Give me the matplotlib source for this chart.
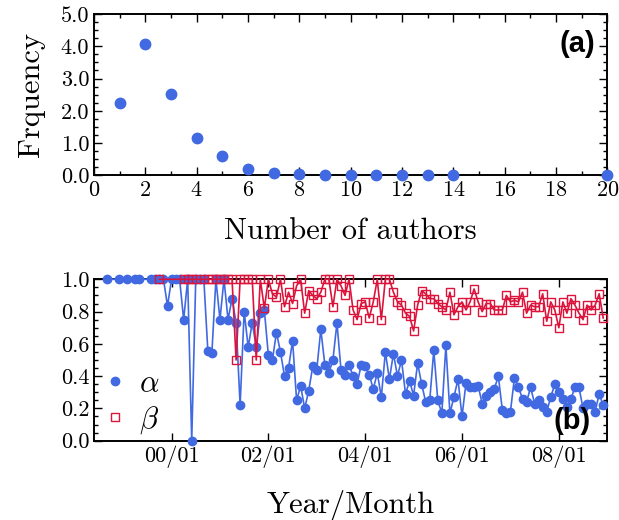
import matplotlib
matplotlib.use("Agg")
import matplotlib.pyplot as plt
from matplotlib.lines import Line2D
from matplotlib.ticker import MultipleLocator

plt.rcParams['font.family'] = 'serif'
plt.rcParams['font.serif'] = ['cmr10']
plt.rcParams['mathtext.fontset'] = 'cm'
plt.rcParams['axes.formatter.use_mathtext'] = True

# (a) number of authors per paper
n_authors = [1, 2, 3, 4, 5, 6, 7, 8, 9, 10, 11, 12, 13, 14, 20]
freq = [2.25, 4.07, 2.52, 1.14, 0.59, 0.18, 0.07, 0.03, 0.01, 0.01,
        0.01, 0.01, 0.01, 0.01, 0.005]

# (b) monthly alpha / beta, months counted from 00/01
alpha_month = [-16, -13, -11, -9, -8, -5, -4, -3, -2, -1, 0, 1, 2, 3, 4, 5,
               6, 7, 8, 9, 10, 11, 12] + list(range(13, 108))
alpha = [1.0, 1.0, 1.0, 1.0, 1.0, 1.0, 1.0, 1.0, 1.0, 0.835, 1.0, 1.0, 1.0,
         0.75, 1.0, 0.0, 1.0, 1.0, 1.0, 0.556, 0.545, 1.0, 0.75,
         1.0, 0.75, 0.88, 0.73, 0.22, 0.80, 0.58, 0.73, 0.58, 0.79,
         0.81, 0.53, 0.50, 0.67, 0.55, 0.40, 0.45, 0.62, 0.25, 0.34,
         0.20, 0.31, 0.46, 0.44, 0.69, 0.47, 0.42, 0.50, 0.73, 0.44,
         0.41, 0.47, 0.40, 0.35, 0.47, 0.46, 0.41, 0.32, 0.42, 0.27,
         0.55, 0.38, 0.54, 0.40, 0.50, 0.29, 0.37, 0.28, 0.48, 0.35,
         0.24, 0.25, 0.56, 0.25, 0.17, 0.59, 0.17, 0.27, 0.38, 0.15,
         0.36, 0.33, 0.33, 0.34, 0.23, 0.28, 0.30, 0.32, 0.40, 0.19,
         0.17, 0.18, 0.39, 0.33, 0.26, 0.24, 0.33, 0.23, 0.25, 0.21,
         0.18, 0.27, 0.35, 0.30, 0.26, 0.21, 0.26, 0.33, 0.33, 0.20,
         0.23, 0.23, 0.18, 0.29, 0.22]

beta_month = [-3, 3, 4, 5, 6, 8, 9, 10, 11, 12] + list(range(13, 108))
beta = [1.0, 1.0, 1.0, 1.0, 1.0, 1.0, 1.0, 1.0, 1.0, 1.0,
        1.0, 1.0, 1.0, 0.50, 1.0, 1.0, 1.0, 1.0, 0.50, 1.0,
        0.82, 1.0, 0.91, 0.89, 1.0, 0.83, 0.92, 0.85, 0.96, 1.0,
        0.79, 0.93, 0.90, 0.88, 0.92, 1.0, 1.0, 0.83, 1.0, 0.96,
        0.90, 1.0, 0.81, 0.75, 0.85, 0.86, 0.76, 0.86, 1.0, 0.75,
        1.0, 1.0, 0.92, 0.86, 0.84, 0.79, 0.77, 0.68, 0.84, 0.93,
        0.91, 0.88, 0.88, 0.85, 0.83, 0.81, 0.92, 0.78, 0.83, 0.86,
        0.81, 0.86, 0.94, 0.86, 0.80, 0.85, 0.85, 0.81, 0.81, 0.81,
        0.90, 0.86, 0.87, 0.86, 0.92, 0.79, 0.84, 0.83, 0.83, 0.91,
        0.74, 0.86, 0.81, 0.70, 0.86, 0.79, 0.88, 0.84, 0.79, 0.75,
        0.84, 0.81, 0.84, 0.91, 0.76]

tick_months = [0, 24, 48, 72, 96]
tick_labels = ['00/01', '02/01', '04/01', '06/01', '08/01']

blue = '#4169E1'
red = '#DC143C'

fig = plt.figure(figsize=(6.19, 5.2), dpi=100)
ax1 = fig.add_axes([0.152, 0.663, 0.829, 0.310])
ax2 = fig.add_axes([0.152, 0.1525, 0.829, 0.3104])

for ax in (ax1, ax2):
    ax.tick_params(which='both', direction='in', top=True, right=True,
                   labelsize=16, width=1.0)
    ax.tick_params(which='major', length=6)
    ax.tick_params(which='minor', length=3)
    for s in ax.spines.values():
        s.set_linewidth(1.4)

# --- panel (a)
ax1.plot(n_authors, freq, 'o', color=blue, ms=7.5, clip_on=False, zorder=3)
ax1.set_xlim(0, 20)
ax1.set_ylim(0, 5)
ax1.xaxis.set_major_locator(MultipleLocator(2))
ax1.xaxis.set_minor_locator(MultipleLocator(1))
ax1.yaxis.set_minor_locator(MultipleLocator(0.25))
ax1.set_yticks([0, 1, 2, 3, 4, 5], ['0.0', '1.0', '2.0', '3.0', '4.0', '5.0'])
ax1.set_xlabel('Number of authors', fontsize=22, labelpad=13)
ax1.set_ylabel('Frquency', fontsize=22, labelpad=11)
ax1.text(0.977, 0.90, '(a)', transform=ax1.transAxes, ha='right', va='top',
         fontsize=21, fontweight='bold', family='Liberation Sans')

# --- panel (b)
ax2.plot(alpha_month, alpha, '-o', color=blue, ms=6, lw=1.2, clip_on=False,
         zorder=3)
ax2.plot(beta_month, beta, '-s', color=red, mfc='none', mec=red, ms=5.5,
         mew=1.0, lw=1.2, clip_on=False, zorder=4)
ax2.set_xlim(-19.2, 108)
ax2.set_ylim(0, 1)
ax2.set_xticks(tick_months, tick_labels)
ax2.set_yticks([0, 0.2, 0.4, 0.6, 0.8, 1.0],
               ['0.0', '0.2', '0.4', '0.6', '0.8', '1.0'])
ax2.yaxis.set_minor_locator(MultipleLocator(0.05))
ax2.set_xlabel('Year/Month', fontsize=22, labelpad=16)
ax2.text(0.967, 0.035, '(b)', transform=ax2.transAxes, ha='right',
         va='bottom', fontsize=21, fontweight='bold', family='Liberation Sans')

handles = [Line2D([], [], ls='none', marker='o', color=blue, ms=6),
           Line2D([], [], ls='none', marker='s', mfc='none', mec=red,
                  ms=5.5, mew=1.0)]
ax2.legend(handles, [r'$\alpha$', r'$\beta$'], loc='lower left',
           bbox_to_anchor=(0.011, 0.03), borderaxespad=0, borderpad=0,
           frameon=False, fontsize=22, handlelength=1.0,
           handletextpad=0.3, labelspacing=0.2)

fig.savefig('out.png', dpi=100)
